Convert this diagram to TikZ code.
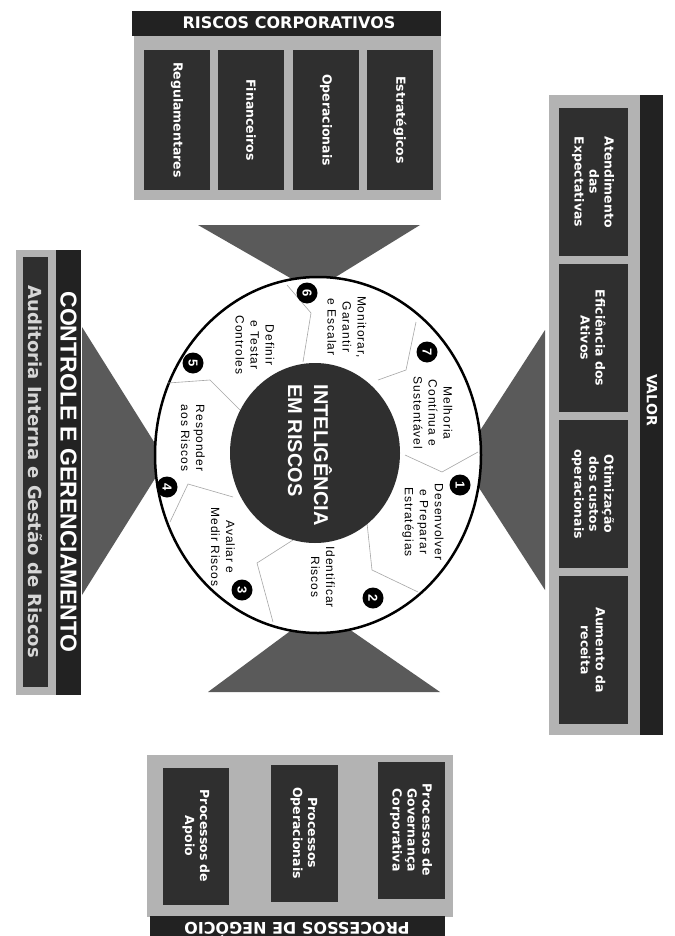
\documentclass[tikz,border=0pt]{standalone}
\usepackage{fontspec}
\setmainfont{DejaVu Sans}
\newfontfamily\arialfont{Liberation Sans}
\definecolor{boxdark}{HTML}{2F2F2F}
\definecolor{bardark}{HTML}{222222}
\definecolor{panelgray}{HTML}{B3B3B3}
\definecolor{wedgegray}{HTML}{5A5A5A}
\definecolor{auditgray}{HTML}{D6D6D6}
\tikzset{
	riskbox/.style={fill=boxdark, text=white, font=\bfseries\fontsize{12.5}{15}\selectfont, align=center, rotate=-90, inner sep=2pt},
	headtext/.style={text=white, font=\bfseries\fontsize{16}{18}\selectfont},
	steptext/.style={font=\arialfont\fontsize{12}{15}\selectfont\addfontfeature{LetterSpace=8}, align=center, rotate=-90},
	badge/.style={circle, fill=black, text=white, font=\arialfont\bfseries\fontsize{13}{13}\selectfont, inner sep=0pt, minimum size=21pt, rotate=-90},
	divider/.style={gray!70, line width=0.6pt}
}
\begin{document}
\begin{tikzpicture}[x=1pt,y=-1pt]
	\clip (0,0) rectangle (674,936);
	\fill[white] (0,0) rectangle (674,936);

	\fill[panelgray] (134,35) rectangle (441,200);
	\fill[bardark] (132,11) rectangle (441,36);
	\node[headtext] (riscos) at (289,23) {RISCOS CORPORATIVOS};
	\node[riskbox, minimum width=140pt, minimum height=66pt] (regul) at (177,120) {Regulamentares};
	\node[riskbox, minimum width=140pt, minimum height=66pt] (finan) at (251,120) {Financeiros};
	\node[riskbox, minimum width=140pt, minimum height=66pt] (operac) at (326,120) {Operacionais};
	\node[riskbox, minimum width=140pt, minimum height=66pt] (estrat) at (400,120) {Estratégicos};

	\fill[panelgray] (549,95) rectangle (640,735);
	\fill[bardark] (640,95) rectangle (663,735);
	\node[headtext, font=\bfseries\fontsize{14}{16}\selectfont, rotate=-90] (valor) at (652,400) {VALOR};
	\node[riskbox, minimum width=148pt, minimum height=69pt] (atend) at (593,182) {Atendimento\\das\\Expectativas};
	\node[riskbox, minimum width=148pt, minimum height=69pt] (efic) at (593,338) {Eficiência dos\\Ativos};
	\node[riskbox, minimum width=148pt, minimum height=69pt] (otim) at (593,494) {Otimização\\dos custos\\operacionais};
	\node[riskbox, minimum width=148pt, minimum height=69pt] (aument) at (593,650) {Aumento da\\receita};

	\fill[panelgray] (16,250) rectangle (56,695);
	\node[riskbox, text=auditgray, font=\bfseries\fontsize{18}{20}\selectfont, minimum width=430pt, minimum height=25pt, inner sep=0pt] (audit) at (35,472) {Auditoria Interna e Gestão de Riscos};
	\fill[bardark] (56,250) rectangle (81,695);
	\node[headtext, font=\arialfont\bfseries\fontsize{23}{25}\selectfont, rotate=-90] (controle) at (68.5,472) {CONTROLE E GERENCIAMENTO};

	\fill[panelgray] (147,755) rectangle (453,917);
	\fill[bardark] (150,916) rectangle (445,945);
	\node[headtext, rotate=180] (negocio) at (297,930) {PROCESSOS DE NEGÓCIO};
	\node[riskbox, minimum width=137pt, minimum height=66pt] (apoio) at (196,836) {Processos de\\Apoio};
	\node[riskbox, minimum width=137pt, minimum height=67pt] (procop) at (304,833) {Processos\\Operacionais};
	\node[riskbox, minimum width=137pt, minimum height=67pt] (govern) at (411,830) {Processos de\\Governança\\Corporativa};

	\fill[wedgegray] (198,225) -- (420,225) -- (313,291) -- cycle;
	\fill[wedgegray] (208,692) -- (440,692) -- (320,609) -- cycle;
	\fill[wedgegray] (82,327) -- (82,595) -- (166,461) -- cycle;
	\fill[wedgegray] (545,330) -- (545,590) -- (461,460) -- cycle;

	\draw[line width=2.5pt, fill=white] (318,455) ellipse [x radius=163pt, y radius=178pt];

	\draw[divider] (405,455) -- (442,472) -- (478,452);
	\draw[divider] (367,523) -- (372,570) -- (418,592);
	\draw[divider] (293,540) -- (257,563) -- (273,622);
	\draw[divider] (233,497) -- (188,484) -- (170,522);
	\draw[divider] (240,410) -- (210,380) -- (168,383);
	\draw[divider] (303,362) -- (311,313) -- (287,285);
	\draw[divider] (378,380) -- (406,370) -- (416,322);

	\fill[boxdark] (315,453) ellipse [x radius=85pt, y radius=90pt];
	\node[text=white, font=\arialfont\bfseries\fontsize{20}{26}\selectfont, align=left, rotate=-90] (intel) at (310,455) {INTELIGÊNCIA\\EM RISCOS};

	\node[steptext] (desenv) at (423,522) {Desenvolver\\e Preparar\\Estratégias};
	\node[steptext] (ident) at (323,577) {Identificar\\Riscos};
	\node[steptext] (aval) at (223,547) {Avaliar e\\Medir Riscos};
	\node[steptext] (resp) at (193,438) {Responder\\aos Riscos};
	\node[steptext] (defin) at (255,345) {Definir\\e Testar\\Controles};
	\node[steptext] (monit) at (347,327) {Monitorar,\\Garantir\\e Escalar};
	\node[steptext] (melh) at (433,413) {Melhoria\\Contínua e\\Sustentável};

	\node[badge] (n1) at (460,485) {1};
	\node[badge] (n2) at (373,598) {2};
	\node[badge] (n3) at (242,590) {3};
	\node[badge] (n4) at (167,487) {4};
	\node[badge] (n5) at (193,363) {5};
	\node[badge] (n6) at (307,293) {6};
	\node[badge] (n7) at (427,352) {7};
\end{tikzpicture}
\end{document}
